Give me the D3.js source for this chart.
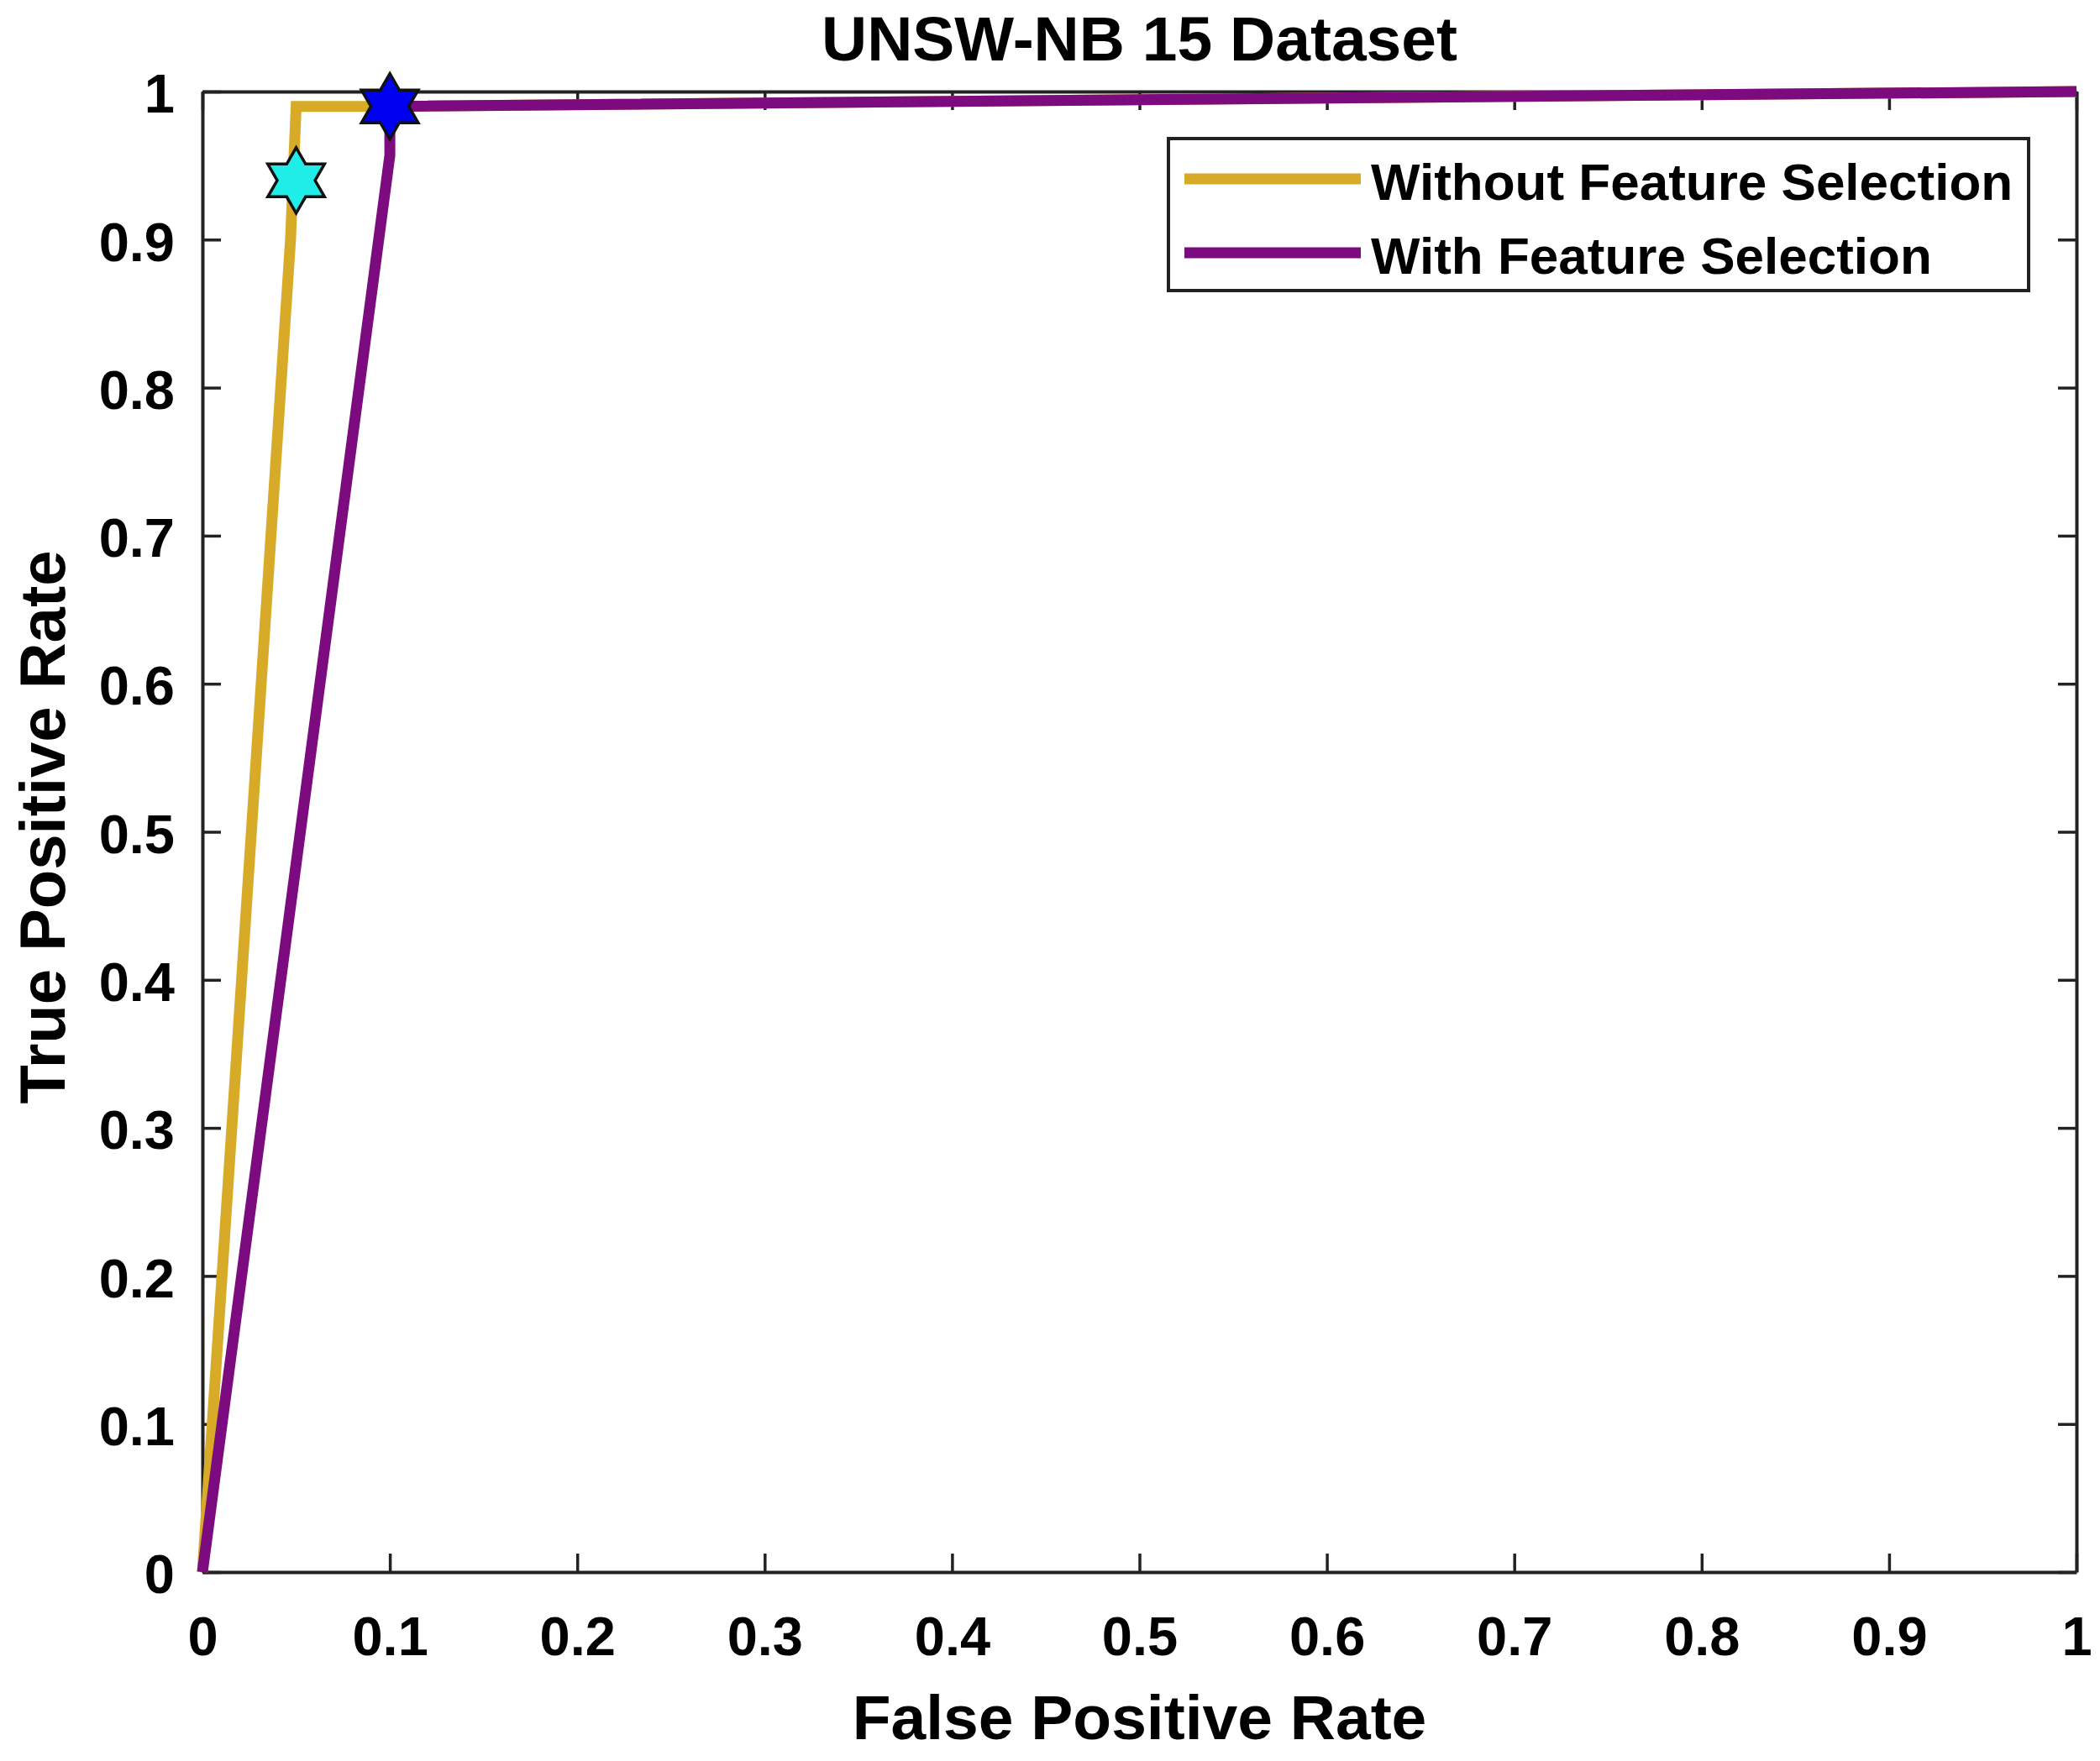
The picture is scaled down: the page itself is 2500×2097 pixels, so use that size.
<!DOCTYPE html>
<html>
<head>
<meta charset="utf-8">
<script src="https://cdn.jsdelivr.net/npm/d3@7"></script>
<style>
  html, body { margin: 0; padding: 0; background: #fff; }
  svg { display: block; }
  text { font-family: "Liberation Sans", Arial, Helvetica, sans-serif; font-weight: bold; fill: #000; }
</style>
</head>
<body>
<script>
// ---- data ----
const chartTitle = "UNSW-NB 15 Dataset";
const xLabel = "False Positive Rate";
const yLabel = "True Positive Rate";
const seriesNames = ["Without Feature Selection", "With Feature Selection"];
const fprWithout = [0, 0.047, 0.050, 0.10, 1.0];
const tprWithout = [0, 0.900, 0.990, 0.990, 1.0];
const fprWith = [0, 0.100, 0.100, 1.0];
const tprWith = [0, 0.957, 0.990, 1.0];
const markerFpr = [0.05, 0.10];
const markerTpr = [0.94, 0.99];
const xTicks = [0, 0.1, 0.2, 0.3, 0.4, 0.5, 0.6, 0.7, 0.8, 0.9, 1];
const yTicks = [0, 0.1, 0.2, 0.3, 0.4, 0.5, 0.6, 0.7, 0.8, 0.9, 1];

// ---- layout ----
const W = 2500, H = 2097;
const L = 241, R = 2472, T = 109, B = 1872;
const colors = ["#D7AA28", "#7D0B80"];
const markerFill = ["#20EDE8", "#0000F0"];
const axisColor = "#222";

const svg = d3.select("body").append("svg").attr("width", W).attr("height", H);
svg.append("rect").attr("width", W).attr("height", H).attr("fill", "#fff");

const x = d3.scaleLinear().domain([0, 1]).range([L, R]);
const y = d3.scaleLinear().domain([0, 1]).range([B, T]);

const fmt = d => d === 0 ? "0" : d === 1 ? "1" : d3.format(".1f")(d);
const tickLen = 22;

// bottom axis
const gB = svg.append("g").attr("transform", `translate(0,${B})`)
  .call(d3.axisBottom(x).tickValues(xTicks).tickFormat(fmt).tickSizeInner(-tickLen).tickSizeOuter(0).tickPadding(0));
// top axis (mirrored ticks)
const gT = svg.append("g").attr("transform", `translate(0,${T})`)
  .call(d3.axisTop(x).tickValues(xTicks).tickFormat("").tickSizeInner(-tickLen).tickSizeOuter(0));
// left axis
const gL = svg.append("g").attr("transform", `translate(${L},0)`)
  .call(d3.axisLeft(y).tickValues(yTicks).tickFormat(fmt).tickSizeInner(-tickLen).tickSizeOuter(0).tickPadding(0));
// right axis
const gR = svg.append("g").attr("transform", `translate(${R},0)`)
  .call(d3.axisRight(y).tickValues(yTicks).tickFormat("").tickSizeInner(-tickLen).tickSizeOuter(0));

[gB, gT, gL, gR].forEach(g => {
  g.select(".domain").attr("stroke", axisColor).attr("stroke-width", 4);
  g.selectAll(".tick line").attr("stroke", axisColor).attr("stroke-width", 3.5);
});
gB.selectAll(".tick text").attr("y", 99).attr("dy", null)
  .attr("font-size", 65).attr("font-family", '"Liberation Sans", Arial, sans-serif').attr("font-weight", "bold").attr("fill", "#000");
gL.selectAll(".tick text").attr("x", -33).attr("dy", "0.38em")
  .attr("font-size", 65).attr("font-family", '"Liberation Sans", Arial, sans-serif').attr("font-weight", "bold").attr("fill", "#000");

// titles
svg.append("text").attr("x", (L + R) / 2).attr("y", 72).attr("text-anchor", "middle")
  .attr("font-size", 75).text(chartTitle);
svg.append("text").attr("x", (L + R) / 2).attr("y", 2071).attr("text-anchor", "middle")
  .attr("font-size", 75).text(xLabel);
svg.append("text").attr("transform", `translate(77,985) rotate(-90)`).attr("text-anchor", "middle")
  .attr("font-size", 76).text(yLabel);

// lines
const line = d3.line().x(d => x(d[0])).y(d => y(d[1]));
const series = [
  d3.zip(fprWithout, tprWithout),
  d3.zip(fprWith, tprWith)
];
series.forEach((s, i) => {
  svg.append("path").datum(s).attr("d", line)
    .attr("fill", "none").attr("stroke", colors[i]).attr("stroke-width", 13)
    .attr("stroke-linejoin", "miter").attr("stroke-linecap", "butt");
});

// hexagram markers
const hexagram = {
  draw(ctx, size) {
    const Ro = Math.sqrt(size), Ri = Ro / Math.sqrt(3);
    for (let i = 0; i < 12; i++) {
      const a = -Math.PI / 2 + i * Math.PI / 6;
      const r = i % 2 ? Ri : Ro;
      const px = r * Math.cos(a), py = r * Math.sin(a);
      if (i === 0) ctx.moveTo(px, py); else ctx.lineTo(px, py);
    }
    ctx.closePath();
  }
};
markerFpr.forEach((fx, i) => {
  svg.append("path")
    .attr("d", d3.symbol().type(hexagram).size(39 * 39)())
    .attr("transform", `translate(${x(fx)},${y(markerTpr[i])})`)
    .attr("fill", markerFill[i]).attr("stroke", "#111").attr("stroke-width", 3.5)
    .attr("stroke-linejoin", "miter");
});

// legend
const lg = svg.append("g");
lg.append("rect").attr("x", 1391).attr("y", 165).attr("width", 1024).attr("height", 181)
  .attr("fill", "#fff").attr("stroke", axisColor).attr("stroke-width", 4);
seriesNames.forEach((name, i) => {
  const ly = 213 + i * 88;
  lg.append("line").attr("x1", 1410).attr("x2", 1620).attr("y1", ly).attr("y2", ly)
    .attr("stroke", colors[i]).attr("stroke-width", 13);
  lg.append("text").attr("x", 1632).attr("y", ly + 3).attr("dy", "0.35em")
    .attr("font-size", 62).text(name);
});
</script>
</body>
</html>
